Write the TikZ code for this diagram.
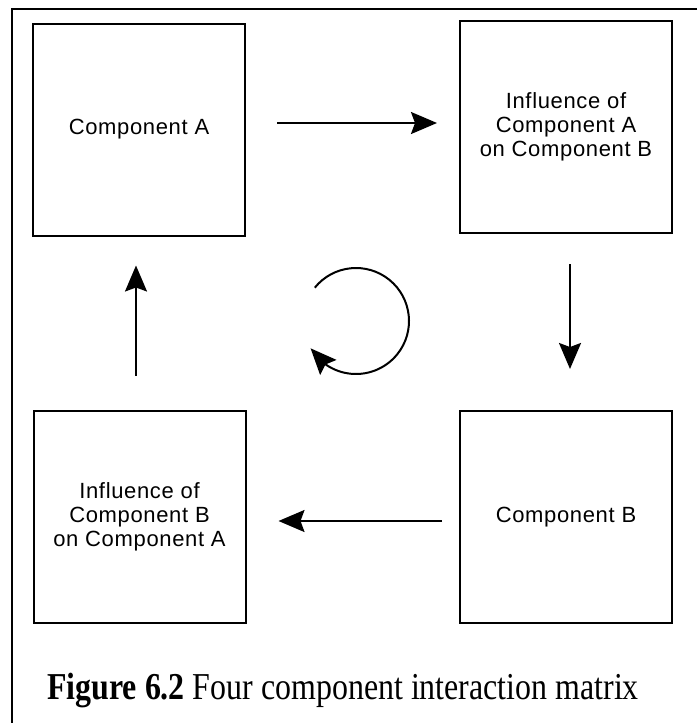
\documentclass[tikz,border=0pt]{standalone}
\usepackage{graphicx}
\usepackage{fontspec}
\setmainfont{Liberation Serif}
\newfontfamily\boxfont[LetterSpace=3]{Liberation Sans}
\usetikzlibrary{arrows.meta,bending,calc}
\tikzset{
  headtip/.tip={Stealth[length=26pt,width=22pt,inset=4pt]},
}
\begin{document}
\begin{tikzpicture}[x=1pt,y=-1pt,
  comp/.style={draw, line width=2pt, minimum width=212pt, minimum height=212pt,
    inner sep=0pt, align=center, font=\boxfont\fontsize{22}{24}\selectfont},
  arr/.style={line width=2pt, -headtip},
  frameline/.style={line width=2pt},
]
\useasboundingbox (0,0) rectangle (697,723);
\coordinate (fr1) at (697,9);
\coordinate (fr2) at (12,9);
\coordinate (fr3) at (12,723);
\draw[frameline] (fr1) -- (fr2) -- (fr3);

\node[comp] (A)  at (139,129.5) {Component A};
\node[comp] (AB) at (566,127)   {Influence of\\Component A\\on Component B};
\node[comp] (BA) at (139.5,516.5) {Influence of\\Component B\\on Component A};
\node[comp] (B)  at (566,517)   {Component B};

\draw[arr, shorten <=31pt, shorten >=22pt] (A.east |- 0,123) -- (AB.west |- 0,123);
\draw[arr, shorten <=30pt, shorten >=41pt] (AB.south -| 570,0) -- (B.north -| 570,0);
\draw[arr, shorten <=17pt, shorten >=32pt] (B.west |- 0,521) -- (BA.east |- 0,521);
\draw[arr, shorten <=34pt, shorten >=29pt] (BA.north -| 136,0) -- (A.south -| 136,0);

\coordinate (cyc) at (356,321);
\draw[arr] ($(cyc)+(-141:53)$) arc[start angle=-141, end angle=149, radius=53];

\node[anchor=base west, inner sep=0pt] (cap) at (47,699)
  {\fontsize{38}{38}\selectfont\scalebox{0.84}[1]{\textbf{Figure 6.2} Four component interaction matrix}};
\end{tikzpicture}
\end{document}
